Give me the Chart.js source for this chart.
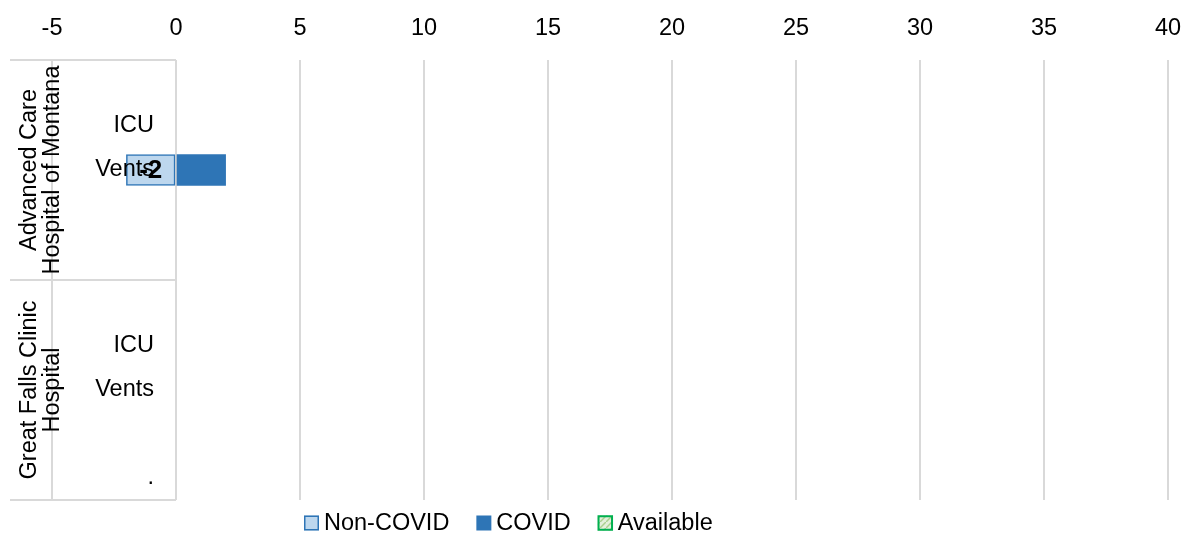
<!DOCTYPE html>
<html>
<head>
<meta charset="utf-8">
<script src="https://cdn.jsdelivr.net/npm/chart.js@4/dist/chart.umd.min.js"></script>
<style>
  html, body { margin: 0; padding: 0; background: #fff; }
  #wrap { width: 1185px; height: 534px; position: relative; }
</style>
</head>
<body>
<div id="wrap"><canvas id="myChart"></canvas></div>
<script>
// rows, 5 per hospital
var categories = ["", "ICU", "Vents", "", "", "", "ICU", "Vents", "", "."];
var groups = [
  ["Advanced Care", "Hospital of Montana"],
  ["Great Falls Clinic", "Hospital"]
];
var groupSize = 5;

var nonCovid = [null, null, -2, null, null, null, null, null, null, null];
var covid = [null, null, 2, null, null, null, null, null, null, null];
var available = [null, null, null, null, null, null, null, null, null, null];

var xTicks = [-5, 0, 5, 10, 15, 20, 25, 30, 35, 40];

var FONT = "'Liberation Sans', Arial, sans-serif";
var SIZE = 23.5;
var GRID = "#d9d9d9";

function hatch() {
  var c = document.createElement("canvas");
  c.width = 6; c.height = 6;
  var g = c.getContext("2d");
  g.fillStyle = "#e2efda";
  g.fillRect(0, 0, 6, 6);
  g.strokeStyle = "#a9d08e";
  g.lineWidth = 1.5;
  g.beginPath();
  g.moveTo(0, 6); g.lineTo(6, 0);
  g.stroke();
  return g.createPattern(c, "repeat");
}

// row labels, hospital labels and the separator lines
var sideLabels = {
  id: "sideLabels",
  afterDatasetsDraw: function (chart) {
    var ctx = chart.ctx;
    var y = chart.scales.y;
    var x = chart.scales.x;
    var area = chart.chartArea;
    var zero = x.getPixelForValue(0);
    ctx.save();

    // separator lines
    ctx.strokeStyle = GRID;
    ctx.lineWidth = 2;
    ctx.beginPath();
    for (var g = 0; g <= groups.length; g++) {
      var yy;
      if (g === 0) yy = area.top;
      else if (g === groups.length) yy = area.bottom;
      else yy = (y.getPixelForValue(g * groupSize - 1) + y.getPixelForValue(g * groupSize)) / 2;
      ctx.moveTo(10, yy);
      ctx.lineTo(zero, yy);
    }
    ctx.stroke();

    // row labels
    ctx.fillStyle = "#000";
    ctx.font = SIZE + "px " + FONT;
    ctx.textAlign = "right";
    ctx.textBaseline = "middle";
    categories.forEach(function (c, i) {
      if (c) ctx.fillText(c, zero - 22, y.getPixelForValue(i));
    });

    // hospital labels, rotated
    ctx.textAlign = "center";
    ctx.textBaseline = "alphabetic";
    groups.forEach(function (lines, g) {
      var yc = (y.getPixelForValue(g * groupSize) + y.getPixelForValue(g * groupSize + groupSize - 1)) / 2;
      lines.forEach(function (t, k) {
        ctx.save();
        ctx.translate(36 + k * 23, yc);
        ctx.rotate(-Math.PI / 2);
        ctx.fillText(t, 0, 0);
        ctx.restore();
      });
    });

    // value labels on the Non-COVID bars
    var meta = chart.getDatasetMeta(0);
    ctx.font = "bold 26px " + FONT;
    ctx.textBaseline = "middle";
    meta.data.forEach(function (el, i) {
      var v = chart.data.datasets[0].data[i];
      if (v === null || v === undefined) return;
      ctx.fillText(String(v), (el.x + el.base) / 2, el.y + 1);
    });
    ctx.restore();
  }
};

// legend drawn by hand to get the tight spacing
var legendPlugin = {
  id: "customLegend",
  afterDraw: function (chart) {
    var ctx = chart.ctx;
    ctx.save();
    ctx.font = SIZE + "px " + FONT;
    ctx.textBaseline = "middle";
    ctx.textAlign = "left";
    var x = 304, yc = 523, box = 15;
    chart.data.datasets.forEach(function (ds) {
      ctx.fillStyle = ds.legendFill || ds.backgroundColor;
      ctx.fillRect(x, yc - box / 2, box, box);
      if (ds.legendBorder) {
        ctx.strokeStyle = ds.legendBorder;
        ctx.lineWidth = ds.legendBorderWidth || 1.5;
        ctx.strokeRect(x + 0.75, yc - box / 2 + 0.75, box - 1.5, box - 1.5);
      }
      ctx.fillStyle = "#000";
      ctx.fillText(ds.label, x + box + 5, yc + 1);
      x += box + 5 + ctx.measureText(ds.label).width + 27;
    });
    ctx.restore();
  }
};

var config = {
  type: "bar",
  data: {
    labels: categories,
    datasets: [
      {
        label: "Non-COVID",
        data: nonCovid,
        backgroundColor: "#bdd7ee",
        borderColor: "#2e75b6",
        borderWidth: 1.5,
        borderSkipped: false,
        legendBorder: "#2e75b6",
        barThickness: 31
      },
      {
        label: "COVID",
        data: covid,
        backgroundColor: "#2e75b6",
        borderWidth: 0,
        barThickness: 31
      },
      {
        label: "Available",
        data: available,
        backgroundColor: hatch(),
        legendFill: hatch(),
        borderColor: "#00b050",
        borderWidth: 1.5,
        legendBorder: "#00b050",
        legendBorderWidth: 2,
        barThickness: 31
      }
    ]
  },
  options: {
    indexAxis: "y",
    responsive: true,
    maintainAspectRatio: false,
    animation: false,
    layout: { padding: { top: 15, left: 52, right: 17, bottom: 34 } },
    scales: {
      x: {
        position: "top",
        stacked: true,
        min: -5,
        max: 40,
        afterBuildTicks: function (axis) {
          axis.ticks = xTicks.map(function (v) { return { value: v }; });
        },
        afterFit: function (scale) {
          scale.height = 45;
          scale.paddingLeft = 0;
          scale.paddingRight = 0;
        },
        grid: { color: GRID, lineWidth: 2, drawTicks: false },
        border: { display: false },
        ticks: {
          padding: 17,
          color: "#000",
          maxRotation: 0,
          font: { family: FONT, size: SIZE }
        }
      },
      y: {
        stacked: true,
        display: false
      }
    },
    plugins: {
      legend: { display: false },
      tooltip: { enabled: false }
    }
  },
  plugins: [sideLabels, legendPlugin]
};

new Chart(document.getElementById("myChart").getContext("2d"), config);
</script>
</body>
</html>
